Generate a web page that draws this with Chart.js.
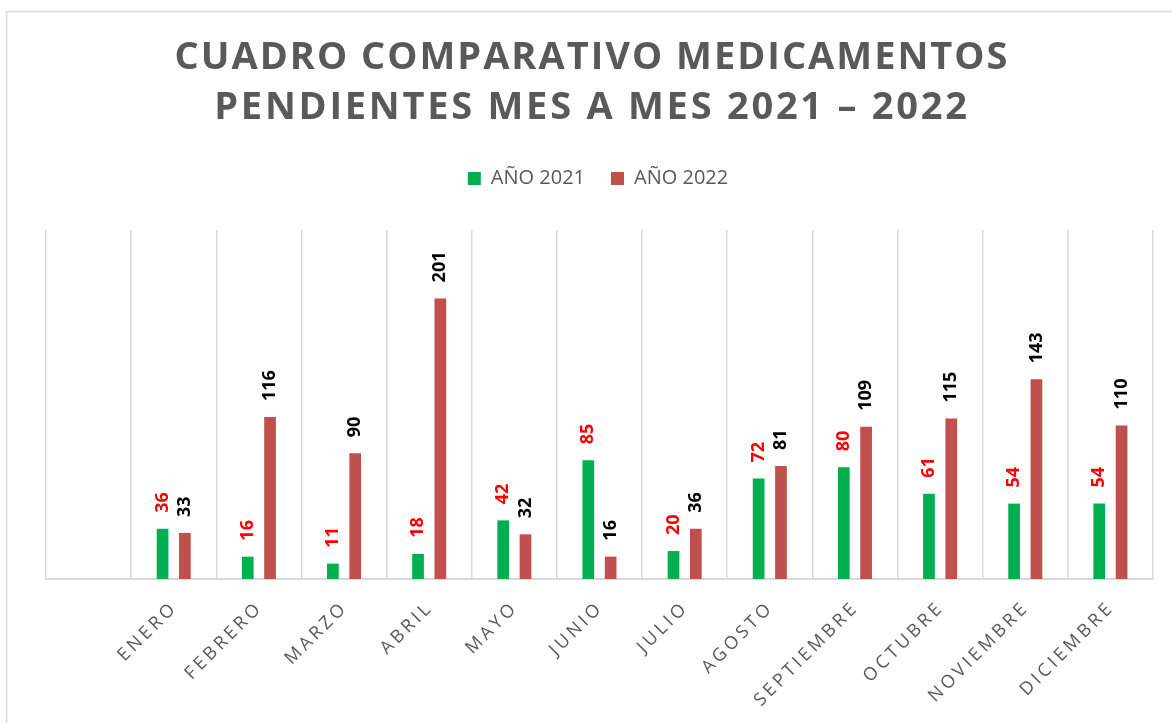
<!DOCTYPE html>
<html lang="es">
<head>
<meta charset="utf-8">
<title>Cuadro comparativo medicamentos pendientes</title>
<script src="https://cdn.jsdelivr.net/npm/chart.js@4.4.1/dist/chart.umd.min.js"></script>
<style>
    html, body { margin: 0; padding: 0; background: #ffffff; overflow: hidden; }
    #wrap { position: relative; width: 1172px; height: 723px; }
</style>
</head>
<body>
<div id="wrap"><canvas id="grafico" width="1172" height="723"></canvas></div>
<script>
// primera categoria vacia, igual que en el original
const meses = ['', 'ENERO', 'FEBRERO', 'MARZO', 'ABRIL', 'MAYO', 'JUNIO', 'JULIO',
    'AGOSTO', 'SEPTIEMBRE', 'OCTUBRE', 'NOVIEMBRE', 'DICIEMBRE'];
const valores2021 = [null, 36, 16, 11, 18, 42, 85, 20, 72, 80, 61, 54, 54];
const valores2022 = [null, 33, 116, 90, 201, 32, 16, 36, 81, 109, 115, 143, 110];
const tituloLinea1 = 'CUADRO COMPARATIVO MEDICAMENTOS';
const tituloLinea2 = 'PENDIENTES MES A MES 2021 – 2022';

const GRIS = '#595959';
const FUENTE = "'Open Sans', 'DejaVu Sans', sans-serif";

// envuelve un metodo de dibujo para poner espaciado entre letras (y mover en x)
function envolver(obj, metodo, espacio, dx) {
    if (!obj || obj['_env_' + metodo]) return;
    const original = obj[metodo].bind(obj);
    obj[metodo] = function (...args) {
        const ctx = obj.ctx;
        ctx.save();
        ctx.letterSpacing = espacio;
        ctx.translate(dx, 0);
        original(...args);
        ctx.restore();
    };
    obj['_env_' + metodo] = true;
}

const pluginMarco = {
    id: 'marco',
    afterInit(chart) {
        // la leyenda necesita mas aire debajo
        const leyenda = chart.legend;
        const fitOriginal = leyenda.fit.bind(leyenda);
        leyenda.fit = function () {
            fitOriginal();
            this.height = 87.5;
        };
    },
    beforeDraw(chart) {
        const ctx = chart.ctx;
        ctx.save();
        ctx.strokeStyle = '#d9d9d9';
        ctx.lineWidth = 1.5;
        ctx.strokeRect(6.5, 11.5, 2000, 2000);
        ctx.restore();
        const titulo = chart.titleBlock;
        const subtitulo = chart.boxes.find(b => b !== titulo && b.constructor === titulo.constructor);
        envolver(titulo, 'draw', '2px', 0);
        envolver(subtitulo, 'draw', '2.75px', 0);
        envolver(chart.legend, 'draw', '0px', 6);
        envolver(chart.scales.x, 'drawLabels', '3.5px', 0);
    }
};

const pluginEtiquetas = {
    id: 'etiquetas',
    afterDatasetsDraw(chart) {
        const ctx = chart.ctx;
        const colores = ['#FF0000', '#000000'];
        chart.data.datasets.forEach((ds, i) => {
            const meta = chart.getDatasetMeta(i);
            meta.data.forEach((bar, j) => {
                const valor = ds.data[j];
                if (valor === null || valor === undefined) return;
                ctx.save();
                ctx.translate(bar.x, bar.y - 16);
                ctx.rotate(-Math.PI / 2);
                ctx.font = `bold 18px ${FUENTE}`;
                ctx.fillStyle = colores[i];
                ctx.textAlign = 'left';
                ctx.textBaseline = 'middle';
                ctx.fillText(String(valor), 0, 0);
                ctx.restore();
            });
        });
    }
};

const ctx = document.getElementById('grafico').getContext('2d');
const grafico = new Chart(ctx, {
    type: 'bar',
    data: {
        labels: meses,
        datasets: [
            {
                label: 'AÑO 2021',
                data: valores2021,
                backgroundColor: '#00B050',
                borderWidth: 0,
                categoryPercentage: 0.524,
                barPercentage: 0.525
            },
            {
                label: 'AÑO 2022',
                data: valores2022,
                backgroundColor: '#C0504D',
                borderWidth: 0,
                categoryPercentage: 0.524,
                barPercentage: 0.525
            }
        ]
    },
    options: {
        responsive: false,
        animation: false,
        devicePixelRatio: 1,
        layout: { padding: { left: 12, right: 0, top: 0, bottom: 0 } },
        scales: {
            x: {
                offset: true,
                grid: {
                    display: true,
                    offset: true,
                    color: '#d9d9d9',
                    lineWidth: 1.5,
                    drawTicks: false
                },
                border: { display: true, color: '#d9d9d9', width: 2 },
                ticks: {
                    autoSkip: false,
                    minRotation: 45,
                    maxRotation: 45,
                    padding: 18,
                    labelOffset: 1,
                    color: GRIS,
                    font: { family: FUENTE, size: 18 }
                },
                afterFit(scale) {
                    scale.height = 144;
                    scale.paddingLeft = 0;
                    scale.paddingRight = 0;
                }
            },
            y: {
                display: true,
                min: 0,
                max: 250,
                grid: { display: false },
                border: { display: false },
                ticks: { display: false },
                afterFit(scale) { scale.width = 34; }
            },
            yDer: {
                display: true,
                position: 'right',
                grid: { display: false },
                border: { display: false },
                ticks: { display: false },
                afterFit(scale) { scale.width = 19; }
            }
        },
        plugins: {
            title: {
                display: true,
                text: tituloLinea1,
                color: GRIS,
                font: { family: FUENTE, size: 38, weight: 'bold', lineHeight: '50px' },
                padding: { top: 33, bottom: 0 }
            },
            subtitle: {
                display: true,
                text: tituloLinea2,
                color: GRIS,
                font: { family: FUENTE, size: 38, weight: 'bold', lineHeight: '50px' },
                padding: { top: 0, bottom: 9.5 }
            },
            legend: {
                display: true,
                position: 'top',
                labels: {
                    boxWidth: 13,
                    boxHeight: 13,
                    padding: 26,
                    color: GRIS,
                    font: { family: FUENTE, size: 20 }
                }
            },
            tooltip: { enabled: false }
        }
    },
    plugins: [pluginMarco, pluginEtiquetas]
});
grafico.draw();
</script>
</body>
</html>
